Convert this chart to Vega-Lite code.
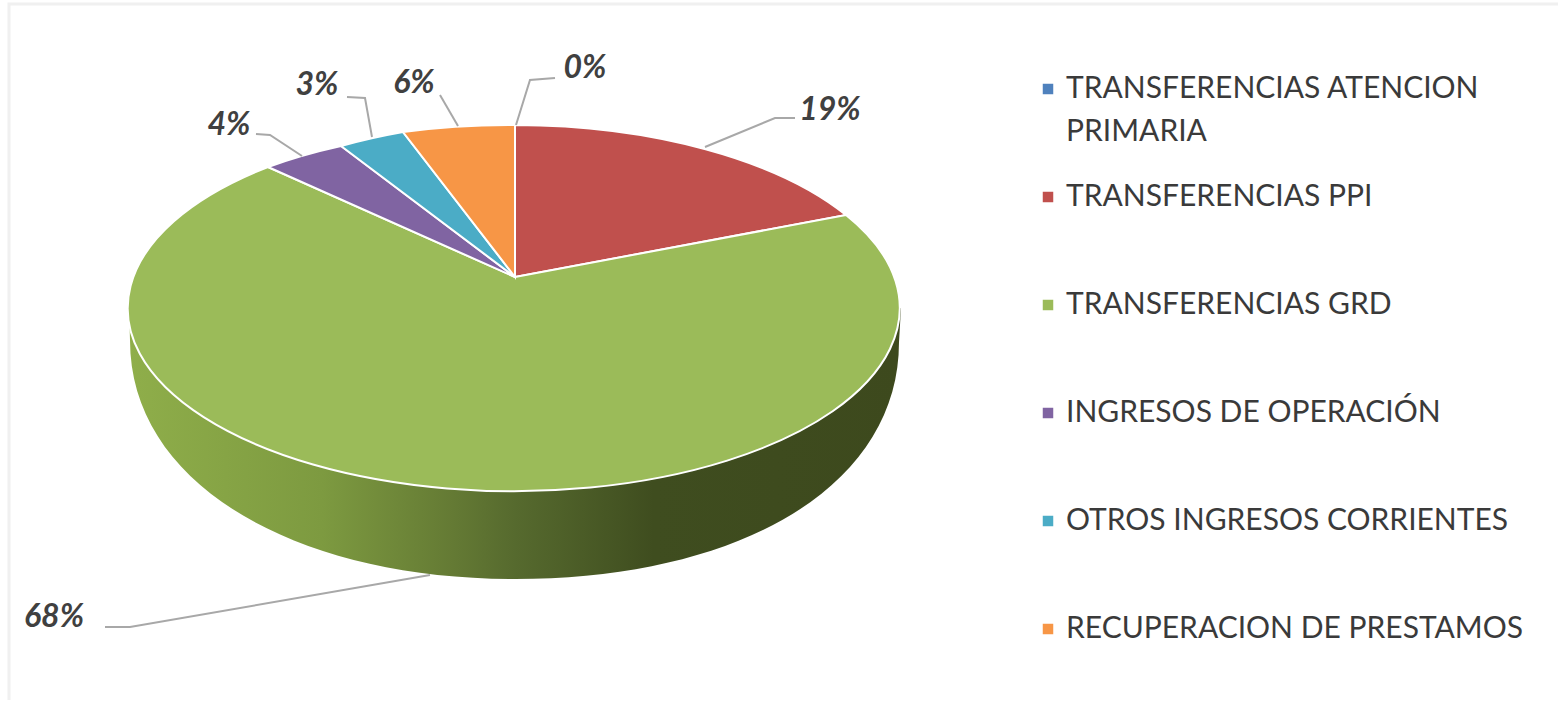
{"$schema":"https://vega.github.io/schema/vega-lite/v6.json","width":1558,"height":704,"padding":0,"autosize":{"type":"none"},"background":"#ffffff","config":{"view":{"stroke":null}},
"data":{"values":[
{"category":"TRANSFERENCIAS ATENCION PRIMARIA","share":0,"label":"0%"},
{"category":"TRANSFERENCIAS PPI","share":19,"label":"19%"},
{"category":"TRANSFERENCIAS GRD","share":68,"label":"68%"},
{"category":"INGRESOS DE OPERACIÓN","share":4,"label":"4%"},
{"category":"OTROS INGRESOS CORRIENTES","share":3,"label":"3%"},
{"category":"RECUPERACION DE PRESTAMOS","share":6,"label":"6%"}]},
"layer":[
{"transform":[{"filter":"datum.share==68"}],"mark":{"type":"point","filled":false,"size":4,"opacity":1,"stroke":"#f0f0f0","strokeWidth":3,"shape":"M-770 348 L-770 -348 L779 -348"},"encoding":{}},
{"transform":[{"filter":"datum.share==68"}],"mark":{"type":"point","filled":true,"size":4,"opacity":1,"shape":"M-649 -12 C-649 135 -480 227 -264 227 C-40 227 120 135 120 -10 L122 -44 L-650 -44 Z","fill":{"gradient":"linear","x1":0,"y1":0,"x2":1,"y2":0,"stops":[{"offset":0,"color":"#8fae4a"},{"offset":0.25,"color":"#7d9a40"},{"offset":0.42,"color":"#647a34"},{"offset":0.5,"color":"#566a2e"},{"offset":0.68,"color":"#3f4d1f"},{"offset":1,"color":"#3d491d"}]}},"encoding":{}},
{"mark":{"type":"point","filled":true,"size":4,"opacity":1,"stroke":"#ffffff","strokeWidth":2},
"encoding":{
"color":{"field":"category","type":"nominal","sort":null,"scale":{"domain":["TRANSFERENCIAS ATENCION PRIMARIA","TRANSFERENCIAS PPI","TRANSFERENCIAS GRD","INGRESOS DE OPERACIÓN","OTROS INGRESOS CORRIENTES","RECUPERACION DE PRESTAMOS"],"range":["#4f81bd","#c0504d","#9bbb59","#8064a2","#4bacc6","#f79646"]},
"legend":{"title":null,"orient":"none","legendX":1033,"legendY":74,"symbolType":"square","symbolSize":110,"symbolStrokeWidth":0,"symbolOpacity":1,"labelFont":"Lato","labelFontSize":30,"labelColor":"#3a3a3a","labelLimit":520,"labelOffset":3,"rowPadding":78,"labelExpr":"replace(datum.label, ' PRIMARIA', '')"}},
"shape":{"field":"category","type":"nominal","legend":null,"scale":{"domain":["TRANSFERENCIAS ATENCION PRIMARIA","TRANSFERENCIAS PPI","TRANSFERENCIAS GRD","INGRESOS DE OPERACIÓN","OTROS INGRESOS CORRIENTES","RECUPERACION DE PRESTAMOS"],"range":["M-264 -75 L-264 -227 Z","M-264 -75 L-264 -227 A386 183 0 0 1 67 -137 Z","M-264 -75 L67 -137 A386 183 0 1 1 -511 -185 Z","M-264 -75 L-511 -185 A386 183 0 0 1 -438 -206 Z","M-264 -75 L-438 -206 A386 183 0 0 1 -376 -220 Z","M-264 -75 L-376 -220 A386 183 0 0 1 -264 -227 Z"]}}}},
{"mark":{"type":"point","filled":false,"size":4,"opacity":1,"stroke":"#a8a8a8","strokeWidth":2},
"encoding":{"shape":{"field":"category","type":"nominal","legend":null,"scale":{"domain":["TRANSFERENCIAS ATENCION PRIMARIA","TRANSFERENCIAS PPI","TRANSFERENCIAS GRD","INGRESOS DE OPERACIÓN","OTROS INGRESOS CORRIENTES","RECUPERACION DE PRESTAMOS"],"range":["M-263 -227 L-249 -272 L-224 -274","M-74 -205 L-4 -234 L16 -234","M-349 223 L-649 275 L-674 275","M-477 -196 L-509 -217 L-523 -218","M-407 -215 L-414 -254 L-432 -255","M-321 -226 L-339 -257"]}}}},
{"mark":{"type":"text","font":"Lato","fontSize":32,"fontWeight":"bold","fontStyle":"italic","color":"#404040","align":"center","baseline":"middle"},
"encoding":{"text":{"field":"label"},
"x":{"field":"share","type":"quantitative","axis":null,"scale":{"domain":[0,3,4,6,19,68],"range":[585,317,229,414,830,54]}},
"y":{"field":"share","type":"quantitative","axis":null,"scale":{"domain":[0,3,4,6,19,68],"range":[68,85,125,83,110,617]}}}},
{"transform":[{"filter":"datum.share==0"},{"calculate":"split(datum.category,' ')[2]","as":"wrapped"}],
"mark":{"type":"text","font":"Lato","fontSize":30,"color":"#3a3a3a","align":"left","baseline":"middle"},
"encoding":{"text":{"field":"wrapped"},
"x":{"field":"share","type":"quantitative","axis":null,"scale":{"domain":[0,68],"range":[1066,1066]}},
"y":{"field":"share","type":"quantitative","axis":null,"scale":{"domain":[0,68],"range":[132,132]}}}}
],
"resolve":{"scale":{"shape":"independent","x":"independent","y":"independent"}}}
